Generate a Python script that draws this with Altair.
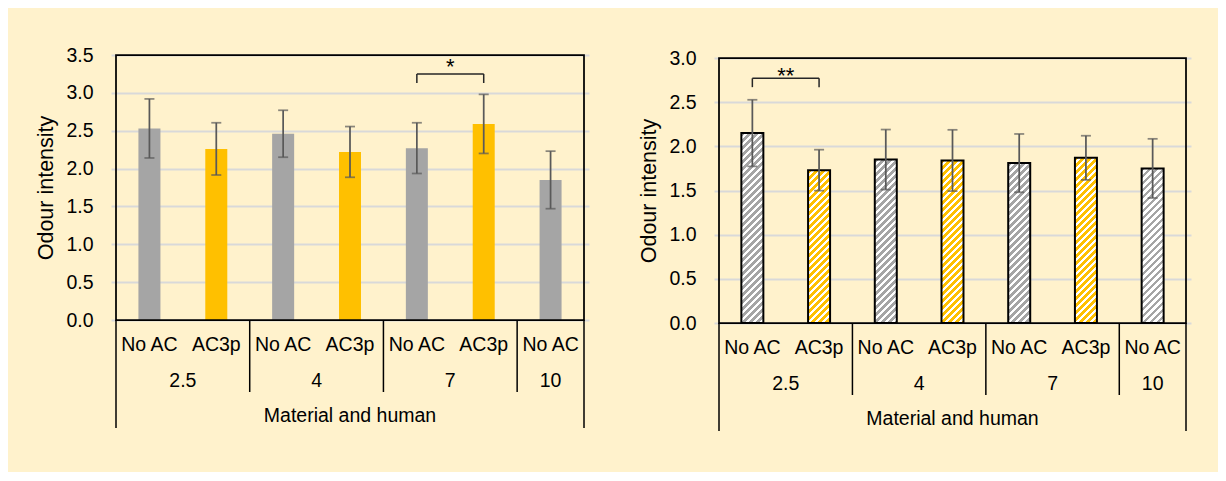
import altair as alt
import pandas as pd

# ---------------- data ----------------
groups = ["2.5", "2.5", "4", "4", "7", "7", "10"]
conds = ["No AC", "AC3p", "No AC", "AC3p", "No AC", "AC3p", "No AC"]

left_mean = [2.53, 2.26, 2.46, 2.22, 2.27, 2.59, 1.85]
left_err = [0.39, 0.345, 0.31, 0.335, 0.335, 0.39, 0.38]

right_mean = [2.15, 1.73, 1.85, 1.84, 1.81, 1.87, 1.75]
right_err = [0.377, 0.232, 0.34, 0.347, 0.33, 0.25, 0.335]

# significance brackets: (from idx, to idx, top, leg end, label, label y)
left_brackets = [(4, 5, 3.25, 3.13, "*", 3.34)]
right_brackets = [(0, 1, 2.77, 2.67, "**", 2.80)]

y_title = "Odour intensity"
x_title = "Material and human"

# ---------------- style ----------------
BG = "#FFF2CC"
GRAY = "#A5A5A5"
YELLOW = "#FFC000"
ERR = "#595959"
FONT = "Liberation Sans"
H = 265
BAR_W = 22
CAT_Y, GRP_Y, TITLE_Y = 289.5, 325.5, 361
SEP_Y2, OUT_Y2 = 337, 373


def base_df(mean, err):
    df = pd.DataFrame({"idx": list(range(len(conds))), "cond": conds,
                       "grp": groups, "mean": mean, "err": err})
    df["lo"] = df["mean"] - df["err"]
    df["hi"] = df["mean"] + df["err"]
    return df


def hatch(color, w, h, period=7.0):
    span = w + h
    k = span / (w * w + h * h)
    stops = []
    n = 0
    while n * period < span:
        s0 = n * period
        s1 = min(s0 + period * 0.55, span)
        s2 = min(s0 + period, span)
        stops += [(s0, color), (s1, color), (s1, "#FFFFFF"), (s2, "#FFFFFF")]
        n += 1
    return {"gradient": "linear", "x1": 0, "y1": 0, "x2": k * w, "y2": k * h,
            "stops": [{"offset": round(min(s / span, 1.0), 5), "color": c} for s, c in stops]}


def panel(mean, err, ymax, brackets, hatched, width, yoff=0):
    df = base_df(mean, err)
    n = len(df)
    xs = alt.Scale(domain=[-0.5, n - 0.5], nice=False, zero=False)
    ys = alt.Scale(domain=[0, ymax], range=[H + yoff, yoff], nice=False)
    yvals = [i * 0.5 for i in range(int(round(ymax / 0.5)) + 1)]

    def X(f):
        return alt.X(f, scale=xs, axis=None)

    def Y(f):
        return alt.Y(f, scale=ys, title=y_title,
                     axis=alt.Axis(values=yvals, format=".1f", grid=True))

    base = alt.Chart(df)

    layers = []
    if not hatched:
        layers.append(base.mark_bar(size=BAR_W).encode(
            x=X("idx:Q"), y=Y("mean:Q"),
            color=alt.Color("cond:N", scale=alt.Scale(domain=["No AC", "AC3p"],
                                                      range=[GRAY, YELLOW]), legend=None)))
    else:
        for i in range(n):
            col = GRAY if conds[i] == "No AC" else YELLOW
            h = mean[i] / ymax * H
            layers.append(base.transform_filter(f"datum.idx == {i}").mark_bar(
                size=BAR_W, stroke="#000000", strokeWidth=2).encode(
                x=X("idx:Q"), y=Y("mean:Q"), fill=alt.value(hatch(col, BAR_W, h))))

    # error bars
    layers.append(base.mark_rule(color=ERR, strokeWidth=1.75).encode(
        x=X("idx:Q"), y=Y("lo:Q"), y2="hi:Q"))
    layers.append(base.mark_tick(color=ERR, orient="horizontal", size=10,
                                 thickness=1.75).encode(x=X("idx:Q"), y=Y("lo:Q")))
    layers.append(base.mark_tick(color=ERR, orient="horizontal", size=10,
                                 thickness=1.75).encode(x=X("idx:Q"), y=Y("hi:Q")))

    # plot frame (scale extents)
    fdf = pd.DataFrame({"x0": [-0.5], "x1": [n - 0.5], "y0": [0.0], "y1": [ymax]})
    layers.append(alt.Chart(fdf).mark_rect(filled=False, stroke="#000000",
                                           strokeWidth=1.75).encode(
        x=X("x0:Q"), x2="x1:Q", y=Y("y0:Q"), y2="y1:Q"))

    # significance brackets
    bdf = pd.DataFrame(brackets, columns=["a", "b", "top", "leg", "lab", "ly"])
    bdf["mid"] = (bdf["a"] + bdf["b"]) / 2
    bb = alt.Chart(bdf)
    layers.append(bb.mark_rule(color="#262626", strokeWidth=1.5).encode(
        x=X("a:Q"), x2="b:Q", y=Y("top:Q")))
    layers.append(bb.mark_rule(color="#262626", strokeWidth=1.5).encode(
        x=X("a:Q"), y=Y("top:Q"), y2="leg:Q"))
    layers.append(bb.mark_rule(color="#262626", strokeWidth=1.5).encode(
        x=X("b:Q"), y=Y("top:Q"), y2="leg:Q"))
    layers.append(bb.mark_text(font=FONT, fontSize=22, color="#000000",
                               baseline="middle").encode(
        x=X("mid:Q"), y=Y("ly:Q"), text="lab:N"))

    # hierarchical x labels
    layers.append(base.mark_text(font=FONT, fontSize=19.5, color="#000000",
                                 baseline="middle").encode(
        x=X("idx:Q"), y=alt.value(CAT_Y + yoff), text="cond:N"))
    gdf = df.groupby("grp", sort=False)["idx"].mean().reset_index()
    layers.append(alt.Chart(gdf).mark_text(font=FONT, fontSize=19.5, color="#000000",
                                           baseline="middle").encode(
        x=X("idx:Q"), y=alt.value(GRP_Y + yoff), text="grp:N"))
    tdf = pd.DataFrame({"idx": [df["idx"].mean()], "t": [x_title]})
    layers.append(alt.Chart(tdf).mark_text(font=FONT, fontSize=19.5, color="#000000",
                                           baseline="middle").encode(
        x=X("idx:Q"), y=alt.value(TITLE_Y + yoff), text="t:N"))
    seps = [i + 0.5 for i in range(n - 1) if groups[i] != groups[i + 1]]
    sdf = pd.DataFrame({"s": seps})
    layers.append(alt.Chart(sdf).mark_rule(color="#000000", strokeWidth=1.5).encode(
        x=X("s:Q"), y=alt.value(H + yoff), y2=alt.value(SEP_Y2 + yoff)))
    odf = pd.DataFrame({"s": [-0.5, n - 0.5]})
    layers.append(alt.Chart(odf).mark_rule(color="#000000", strokeWidth=1.5).encode(
        x=X("s:Q"), y=alt.value(H + yoff), y2=alt.value(OUT_Y2 + yoff)))

    return alt.layer(*layers).properties(width=width, height=H + yoff)


left = panel(left_mean, left_err, 3.5, left_brackets, hatched=False, width=478)
right = panel(right_mean, right_err, 3.0, right_brackets, hatched=True, width=477,
              yoff=3)

chart = alt.hconcat(left, right, spacing=49).properties(
    background=BG,
    padding={"left": 27, "top": 37, "right": 27, "bottom": 40},
).configure_view(
    stroke=None
).configure_axis(
    domain=False, ticks=False, tickSize=0, labelPadding=18,
    labelFont=FONT, labelFontSize=19.5, labelColor="#000000",
    titleFont=FONT, titleFontSize=21.5, titleFontWeight="normal",
    titleColor="#000000", titlePadding=8,
    gridColor="#D9D9D9", gridWidth=2
)

chart.save("out.html", embed_options={"renderer": "svg", "actions": False})
